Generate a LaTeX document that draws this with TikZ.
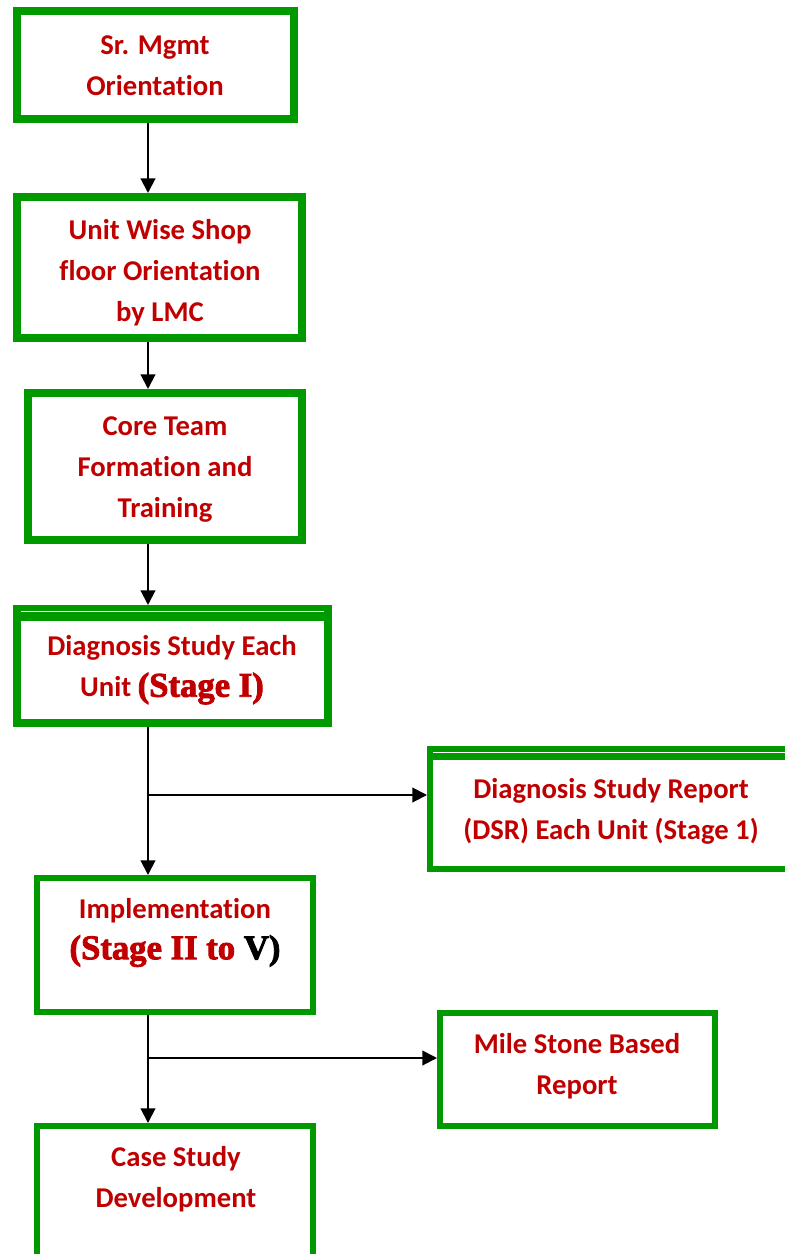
\documentclass[tikz,border=0pt]{standalone}
\usepackage{fontspec}
\setmainfont{Carlito}[Ligatures=NoCommon]
\newfontfamily\stagefont{Liberation Serif}[BoldFeatures={FakeBold=2.5}]
\usetikzlibrary{arrows.meta}
\definecolor{boxgreen}{RGB}{0,153,0}
\definecolor{textred}{RGB}{192,0,0}

\begin{document}
\begin{tikzpicture}[x=0.75pt, y=-0.75pt, >={Triangle[width=11pt,length=11pt]},
    box/.style 2 args={draw=boxgreen, line width=6pt, minimum width=#1*0.75pt, minimum height=#2*0.75pt, inner sep=0pt},
    thinbox/.style 2 args={box={#1}{#2}, line width=4.5pt},
    txt/.style={text=textred, align=center, font=\fontsize{21.5}{30.75}\selectfont\bfseries}]
    % Bildbereich
    \useasboundingbox (0,0) rectangle (785,1254);
    \clip (0,0) rectangle (785,1254);
    % Kaesten
    \node[box={277}{108}] (mgmt) at (155.5,65) {};
    \node[box={285}{141}] (shop) at (159.5,267.5) {};
    \node[box={274}{147}] (core) at (165,466.5) {};
    \node[box={311}{106}] (diag) at (172.5,670) {};
    \fill[boxgreen] (13,605) rectangle (332,613);
    \draw[white, line width=0.75pt] (21,611) -- (324,611);
    \node[thinbox={370}{112}] (dsr) at (615,813) {};
    \fill[boxgreen] (427,746) rectangle (790,754);
    \draw[white, line width=0.75pt] (433,752) -- (790,752);
    \node[thinbox={276}{134}] (impl) at (175,945) {};
    \node[thinbox={275}{113}] (mile) at (577.5,1069.5) {};
    \node[thinbox={276}{154}] (case) at (175,1203) {};
    % Texte
    \node[txt] (mgmt-t) at (155,66) {Sr. Mgmt\\Orientation};
    \node[txt] (shop-t) at (160,272.5) {Unit Wise Shop\\floor Orientation\\by LMC};
    \node[txt] (core-t) at (165,470) {Core Team\\Formation and\\Training};
    \node[txt] (diag-t) at (172,670) {Diagnosis Study Each\\Unit {\fontsize{26}{30.75}\selectfont\stagefont (Stage I)}};
    \node[txt] (dsr-t) at (611,811.5) {Diagnosis Study Report\\(DSR) Each Unit (Stage 1)};
    \node[txt] (impl-t) at (175,932.5) {Implementation\\{\fontsize{26}{30.75}\selectfont\stagefont (Stage II to \textcolor{black}{V)}}};
    \node[txt] (mile-t) at (577,1066.5) {Mile Stone Based\\Report};
    \node[txt] (case-t) at (176,1179.5) {Case Study\\Development};
    % Pfeile
    \coordinate (trunk) at (148,0);
    \coordinate (fork1) at (148,795);
    \coordinate (fork2) at (148,1058);
    \draw[->, line width=1.5pt] (mgmt.south -| trunk) -- (shop.north -| trunk);
    \draw[->, line width=1.5pt] (shop.south -| trunk) -- (core.north -| trunk);
    \draw[->, line width=1.5pt] (core.south -| trunk) -- (trunk |- 0,605);
    \draw[->, line width=1.5pt] (diag.south -| trunk) -- (impl.north -| trunk);
    \draw[->, line width=1.5pt] (fork1) -- (fork1 -| dsr.west);
    \draw[->, line width=1.5pt] (impl.south -| trunk) -- (case.north -| trunk);
    \draw[->, line width=1.5pt] (fork2) -- (fork2 -| mile.west);
\end{tikzpicture}
\end{document}
